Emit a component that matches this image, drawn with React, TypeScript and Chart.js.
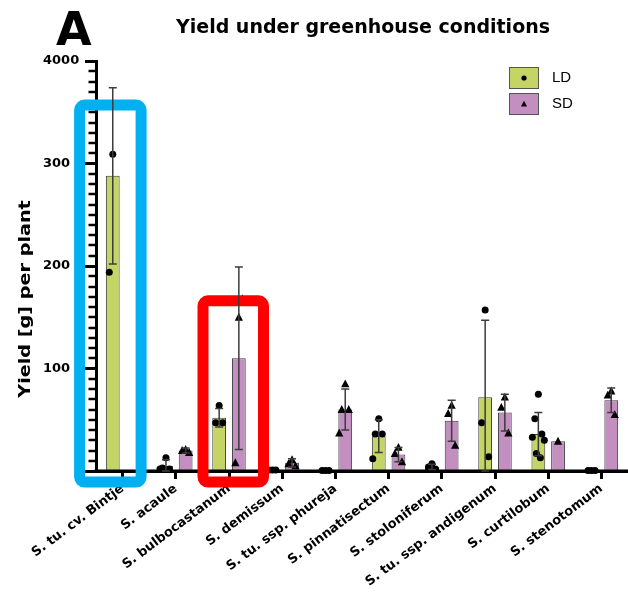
import React, { useEffect, useRef } from 'react';
import { Chart, registerables } from 'chart.js';

Chart.register(...registerables);

const categories = [
  'S. tu. cv. Bintje',
  'S. acaule',
  'S. bulbocastanum',
  'S. demissum',
  'S. tu. ssp. phureja',
  'S. pinnatisectum',
  'S. stoloniferum',
  'S. tu. ssp. andigenum',
  'S. curtilobum',
  'S. stenotomum',
];

const seriesLabels = ['LD', 'SD'];

const ldMean = [288, 5, 52, 1, 0.8, 34, 4, 72, 36, 0.8];
const ldSd = [86, 6, 9, 0, 0, 16, 2.5, 75, 21, 0];
const sdMean = [null, 20, 110, 8, 60, 16, 49, 57, 29, 69];
const sdSd = [null, 2.5, 89, 4, 20, 7, 20, 18, 0, 12];

const ldPoints = [
  [309, 194, 357],
  [13, 3, 2, 2],
  [64, 47, 47],
  [1, 1, 1],
  [0.5, 0.5, 0.5],
  [51, 36, 36, 12],
  [7, 4, 2],
  [157, 47, 14],
  [75, 51, 36, 33, 30, 17, 13],
  [0.5, 0.5, 0.5],
];
const sdPoints = [
  [],
  [21, 20, 18],
  [150, 8, 168],
  [11, 7, 5],
  [85, 60, 60, 37],
  [23, 17, 9],
  [64, 56, 25],
  [72, 62, 37],
  [29],
  [78, 74, 55],
];

const yTickLabels: Record<number, string> = { 100: '100', 200: '200', 300: '300', 400: '4000' };

const LD_COLOR = '#c4d566';
const SD_COLOR = '#c28fc0';
const JITTER = [0, -3.5, 3.5, -6, 6, -2, 2, -5, 5];

const FONT = 'DejaVu Sans';

function drawTriangle(ctx: CanvasRenderingContext2D, x: number, y: number, s: number) {
  ctx.beginPath();
  ctx.moveTo(x, y - s * 0.6);
  ctx.lineTo(x + s * 0.55, y + s * 0.45);
  ctx.lineTo(x - s * 0.55, y + s * 0.45);
  ctx.closePath();
  ctx.fill();
}

function roundRect(ctx: CanvasRenderingContext2D, x: number, y: number, w: number, h: number, r: number) {
  ctx.beginPath();
  ctx.moveTo(x + r, y);
  ctx.lineTo(x + w - r, y);
  ctx.arcTo(x + w, y, x + w, y + r, r);
  ctx.lineTo(x + w, y + h - r);
  ctx.arcTo(x + w, y + h, x + w - r, y + h, r);
  ctx.lineTo(x + r, y + h);
  ctx.arcTo(x, y + h, x, y + h - r, r);
  ctx.lineTo(x, y + r);
  ctx.arcTo(x, y, x + r, y, r);
  ctx.closePath();
}

const overlayPlugin = {
  id: 'overlay',
  afterDraw(chart: any) {
    const ctx: CanvasRenderingContext2D = chart.ctx;
    const yS = chart.scales.y;
    const xS = chart.scales.x;
    const area = chart.chartArea;
    ctx.save();

    // x axis line on top of bars
    ctx.strokeStyle = '#000';
    ctx.lineWidth = 3;
    ctx.beginPath();
    ctx.moveTo(area.left - 1.5, area.bottom);
    ctx.lineTo(area.right, area.bottom);
    ctx.stroke();

    // minor y ticks
    ctx.lineWidth = 2.5;
    for (let v = 10; v < 400; v += 10) {
      if (v % 100 === 0) continue;
      const py = Math.round(yS.getPixelForValue(v));
      ctx.beginPath();
      ctx.moveTo(area.left - 7.5, py);
      ctx.lineTo(area.left, py);
      ctx.stroke();
    }

    const metaLD = chart.getDatasetMeta(0);
    const metaSD = chart.getDatasetMeta(1);

    // individual points
    ctx.fillStyle = '#000';
    categories.forEach((_, i) => {
      const bx = metaLD.data[i].x;
      ldPoints[i].forEach((v, k) => {
        ctx.beginPath();
        ctx.arc(bx + JITTER[k % JITTER.length], yS.getPixelForValue(v), 3.5, 0, Math.PI * 2);
        ctx.fill();
      });
      const sx = metaSD.data[i].x;
      sdPoints[i].forEach((v, k) => {
        drawTriangle(ctx, sx + JITTER[k % JITTER.length], yS.getPixelForValue(v), 7.5);
      });
    });

    // highlight boxes
    const boxes = [
      { cat: 0, top: 357, dl: -43, dr: 18.5, color: '#00b0f0' },
      { cat: 2, top: 166, dl: -26, dr: 34.5, color: '#ff0000' },
    ];
    boxes.forEach((b) => {
      const cx = xS.getPixelForValue(b.cat);
      const top = yS.getPixelForValue(b.top);
      ctx.strokeStyle = b.color;
      ctx.lineWidth = 11;
      roundRect(ctx, cx + b.dl, top, b.dr - b.dl, area.bottom + 11 - top, 5);
      ctx.stroke();
    });

    // error bars
    ctx.strokeStyle = '#3c3c3c';
    ctx.lineWidth = 1.5;
    const drawErr = (x: number, m: number | null, s: number | null) => {
      if (m == null || s == null || s === 0) return;
      const y1 = yS.getPixelForValue(m + s);
      const y0 = yS.getPixelForValue(Math.max(0, m - s));
      ctx.beginPath();
      ctx.moveTo(x, y1);
      ctx.lineTo(x, y0);
      ctx.moveTo(x - 4, y1);
      ctx.lineTo(x + 4, y1);
      ctx.moveTo(x - 4, y0);
      ctx.lineTo(x + 4, y0);
      ctx.stroke();
    };
    categories.forEach((_, i) => {
      drawErr(metaLD.data[i].x, ldMean[i], ldSd[i]);
      drawErr(metaSD.data[i].x, sdMean[i], sdSd[i]);
    });

    // legend
    const legendItems = [
      { label: seriesLabels[0], color: LD_COLOR, marker: 'dot', y: 67 },
      { label: seriesLabels[1], color: SD_COLOR, marker: 'tri', y: 93 },
    ];
    legendItems.forEach((it) => {
      ctx.fillStyle = it.color;
      ctx.fillRect(509, it.y, 30, 22);
      ctx.strokeStyle = '#555';
      ctx.lineWidth = 1;
      ctx.strokeRect(509.5, it.y + 0.5, 29, 21);
      ctx.fillStyle = '#000';
      if (it.marker === 'dot') {
        ctx.beginPath();
        ctx.arc(524, it.y + 11, 2.6, 0, Math.PI * 2);
        ctx.fill();
      } else {
        drawTriangle(ctx, 524, it.y + 11, 5.5);
      }
      ctx.font = `15px "Liberation Sans"`;
      ctx.textAlign = 'left';
      ctx.textBaseline = 'middle';
      ctx.fillText(it.label, 552, it.y + 11);
    });

    // panel letter and title
    ctx.fillStyle = '#000';
    ctx.textBaseline = 'alphabetic';
    ctx.textAlign = 'left';
    ctx.font = `bold 46px "${FONT}"`;
    ctx.fillText('A', 56, 45);
    ctx.textAlign = 'center';
    ctx.font = `bold 19px "${FONT}"`;
    ctx.fillText('Yield under greenhouse conditions', 363, 33);

    // y axis title
    ctx.save();
    ctx.translate(26, 299);
    ctx.rotate(-Math.PI / 2);
    ctx.scale(1.28, 1);
    ctx.textAlign = 'center';
    ctx.textBaseline = 'middle';
    ctx.font = `bold 15px "${FONT}"`;
    ctx.fillText('Yield [g] per plant', 0, 0);
    ctx.restore();

    ctx.restore();
  },
};

export default function App() {
  const ref = useRef<HTMLCanvasElement | null>(null);
  useEffect(() => {
    if (!ref.current) return;
    const chart = new Chart(ref.current, {
      type: 'bar',
      data: {
        labels: categories,
        datasets: [
          {
            label: seriesLabels[0],
            data: ldMean,
            backgroundColor: LD_COLOR,
            borderColor: '#3a3a3a',
            borderWidth: 1,
            categoryPercentage: 0.74,
            barPercentage: 0.7,
          },
          {
            label: seriesLabels[1],
            data: sdMean as any,
            backgroundColor: SD_COLOR,
            borderColor: '#3a3a3a',
            borderWidth: 1,
            categoryPercentage: 0.74,
            barPercentage: 0.7,
          },
        ],
      },
      options: {
        responsive: false,
        animation: false,
        devicePixelRatio: 1,
        layout: { padding: { top: 61, left: 43, right: 0, bottom: 0 } },
        plugins: {
          legend: { display: false },
          tooltip: { enabled: false },
          title: { display: false },
        },
        scales: {
          x: {
            afterFit: (s: any) => {
              s.height = 128;
              s.paddingLeft = 0;
              s.paddingRight = 0;
            },
            ticks: {
              autoSkip: false,
              minRotation: 37,
              maxRotation: 37,
              color: '#000',
              padding: 2,
              font: { family: FONT, weight: 'bold', size: 13 },
            },
            grid: {
              drawOnChartArea: false,
              offset: false,
              tickLength: 8,
              tickWidth: 3,
              tickColor: '#000',
            },
            border: { display: true, width: 3, color: '#000' },
          },
          y: {
            min: 0,
            max: 400,
            afterFit: (s: any) => {
              s.width = 53;
            },
            ticks: {
              stepSize: 100,
              callback: (v: any) => yTickLabels[v as number] ?? '',
              color: '#000',
              crossAlign: 'far',
              padding: 4,
              font: { family: FONT, weight: 'bold', size: 13 },
            },
            grid: {
              drawOnChartArea: false,
              tickLength: 11,
              tickWidth: 3,
              tickColor: '#000',
            },
            border: { display: true, width: 3, color: '#000' },
          },
        },
      },
      plugins: [overlayPlugin],
    });
    return () => chart.destroy();
  }, []);
  return (
    <div style={{ position: 'absolute', left: 0, top: 0, width: 628, height: 599, background: '#fff' }}>
      <canvas ref={ref} width={628} height={599} style={{ display: 'block' }} />
    </div>
  );
}
